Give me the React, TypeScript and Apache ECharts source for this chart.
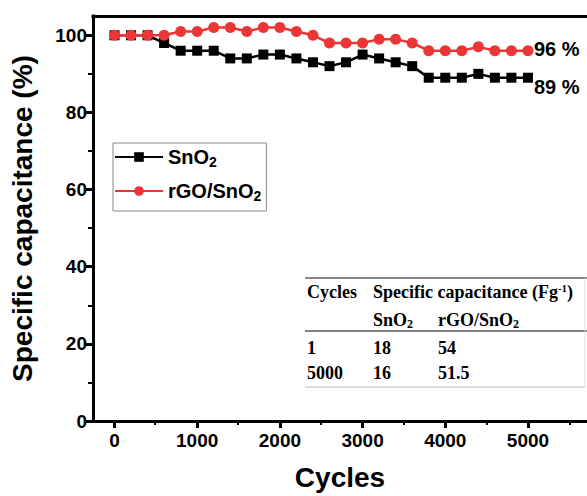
import React, { useEffect, useRef } from 'react';
import * as echarts from 'echarts';

const cycles = [0, 200, 400, 600, 800, 1000, 1200, 1400, 1600, 1800, 2000, 2200, 2400, 2600, 2800, 3000, 3200, 3400, 3600, 3800, 4000, 4200, 4400, 4600, 4800, 5000];
const sno2 = [100, 100, 100, 98, 96, 96, 96, 94, 94, 95, 95, 94, 93, 92, 93, 95, 94, 93, 92, 89, 89, 89, 90, 89, 89, 89];
const rgoSno2 = [100, 100, 100, 100, 101, 101, 102, 102, 101, 102, 102, 101, 100, 98, 98, 98, 99, 99, 98, 96, 96, 96, 97, 96, 96, 96];

const xTickValues = [0, 1000, 2000, 3000, 4000, 5000];
const xMinorTickValues = [500, 1500, 2500, 3500, 4500, 5500];
const yTickValues = [0, 20, 40, 60, 80, 100];
const yMinorTickValues = [10, 30, 50, 70, 90];

const tableCycles = ['1', '5000'];
const tableSnO2 = ['18', '16'];
const tableRGO = ['54', '51.5'];

const X_MIN = -260;
const X_MAX = 5714;
const Y_MIN = 0;
const Y_MAX = 105;

const RED = '#ec3535';
const SANS = '"Liberation Sans", Arial, sans-serif';
const SERIF = '"Liberation Serif", "Times New Roman", serif';

export default function App() {
  const ref = useRef<HTMLDivElement>(null);

  useEffect(() => {
    document.body.style.margin = '0';
    const chart = echarts.init(ref.current!, null, { renderer: 'svg' });

    const axisLineStyle = { color: '#000', width: 3, cap: 'square' };
    const tickLabel = { fontSize: 19, fontWeight: 'bold', color: '#000', fontFamily: SANS };

    const tableFont = { fontFamily: SERIF, fontWeight: 'bold', fontSize: 18, fill: '#000' };
    const tableRich = {
      s: { fontFamily: SERIF, fontWeight: 'bold', fontSize: 12, padding: [7, 0, 0, 0] },
      p: { fontFamily: SERIF, fontWeight: 'bold', fontSize: 11, padding: [0, 0, 8, 0] },
    };
    const tx = (text: string, x: number, y: number) => ({
      type: 'text',
      x,
      y,
      style: { text, ...tableFont, verticalAlign: 'middle', align: 'left', rich: tableRich },
    });

    const rowsY = [348, 373];
    const tableTexts: any[] = [
      tx('Cycles', 307, 292),
      tx('Specific capacitance (Fg{p|-1})', 373, 292),
      tx('SnO{s|2}', 373, 320),
      tx('rGO/SnO{s|2}', 438, 320),
    ];
    tableCycles.forEach((c, i) => {
      tableTexts.push(tx(c, 307, rowsY[i]));
      tableTexts.push(tx(tableSnO2[i], 373, rowsY[i]));
      tableTexts.push(tx(tableRGO[i], 438, rowsY[i]));
    });

    const option: any = {
      animation: false,
      backgroundColor: '#fff',
      grid: [
        { left: 92, top: 16, width: 497, height: 405 },
        { left: 92, top: 16, width: 497, height: 405 },
      ],
      legend: {
        orient: 'vertical',
        left: 113,
        top: 143,
        padding: [4, 5, 8, 1],
        itemWidth: 48,
        itemHeight: 12,
        itemGap: 12,
        borderColor: '#888',
        borderWidth: 1,
        data: ['SnO2', 'rGO/SnO2'],
        formatter: (name: string) => '{n|' + name.slice(0, -1) + '}{s|2}',
        textStyle: {
          color: '#000',
          rich: {
            n: { fontSize: 20, fontWeight: 'bold', fontFamily: SANS, color: '#000' },
            s: { fontSize: 14, fontWeight: 'bold', fontFamily: SANS, color: '#000', padding: [10, 0, 0, 0] },
          },
        },
      },
      xAxis: [
        {
          type: 'value',
          gridIndex: 0,
          position: 'bottom',
          min: X_MIN,
          max: X_MAX,
          axisLine: { show: true, onZero: false, lineStyle: axisLineStyle },
          axisTick: { show: true, customValues: xTickValues, length: 7, lineStyle: { color: '#000', width: 3 } },
          axisLabel: { customValues: xTickValues, margin: 10, formatter: (v: number) => String(v), ...tickLabel },
          splitLine: { show: false },
          name: 'Cycles',
          nameLocation: 'middle',
          nameGap: 42,
          nameTextStyle: { fontSize: 28, fontWeight: 'bold', color: '#000', fontFamily: SANS },
        },
        {
          type: 'value',
          gridIndex: 0,
          position: 'top',
          min: X_MIN,
          max: X_MAX,
          axisLine: { show: true, onZero: false, lineStyle: axisLineStyle },
          axisTick: { show: false },
          axisLabel: { show: false },
          splitLine: { show: false },
        },
        {
          type: 'value',
          gridIndex: 1,
          position: 'bottom',
          min: X_MIN,
          max: X_MAX,
          axisLine: { show: false, onZero: false },
          axisTick: { show: true, customValues: xMinorTickValues, length: 4, lineStyle: { color: '#000', width: 2 } },
          axisLabel: { show: false },
          splitLine: { show: false },
        },
      ],
      yAxis: [
        {
          type: 'value',
          gridIndex: 0,
          min: Y_MIN,
          max: Y_MAX,
          axisLine: { show: true, onZero: false, lineStyle: axisLineStyle },
          axisTick: { show: true, customValues: yTickValues, length: 7, lineStyle: { color: '#000', width: 3 } },
          axisLabel: { customValues: yTickValues, margin: 6, ...tickLabel },
          splitLine: { show: false },
          name: 'Specific capacitance (%)',
          nameLocation: 'middle',
          nameGap: 57,
          nameTextStyle: { fontSize: 28, fontWeight: 'bold', color: '#000', fontFamily: SANS },
        },
        {
          type: 'value',
          gridIndex: 1,
          min: Y_MIN,
          max: Y_MAX,
          axisLine: { show: false, onZero: false },
          axisTick: { show: true, customValues: yMinorTickValues, length: 4, lineStyle: { color: '#000', width: 2 } },
          axisLabel: { show: false },
          splitLine: { show: false },
        },
      ],
      series: [
        {
          name: 'SnO2',
          type: 'line',
          xAxisIndex: 0,
          yAxisIndex: 0,
          data: cycles.map((c, i) => [c, sno2[i]]),
          symbol: 'rect',
          symbolSize: 10,
          color: '#000',
          itemStyle: { color: '#000' },
          lineStyle: { color: '#000', width: 2.5 },
          endLabel: {
            show: true,
            formatter: () => `${sno2[sno2.length - 1]} %`,
            distance: 6,
            offset: [0, 9],
            fontSize: 20,
            fontWeight: 'bold',
            color: '#000',
            fontFamily: SANS,
          },
        },
        {
          name: 'rGO/SnO2',
          type: 'line',
          xAxisIndex: 0,
          yAxisIndex: 0,
          data: cycles.map((c, i) => [c, rgoSno2[i]]),
          symbol: 'circle',
          symbolSize: 11,
          color: RED,
          itemStyle: { color: RED },
          lineStyle: { color: RED, width: 2.5 },
          endLabel: {
            show: true,
            formatter: () => `${rgoSno2[rgoSno2.length - 1]} %`,
            distance: 6,
            offset: [0, -2],
            fontSize: 20,
            fontWeight: 'bold',
            color: '#000',
            fontFamily: SANS,
          },
        },
      ],
      graphic: [
        { type: 'line', shape: { x1: 305, y1: 278, x2: 587, y2: 278 }, style: { stroke: '#888', lineWidth: 2 } },
        { type: 'line', shape: { x1: 305, y1: 331, x2: 587, y2: 331 }, style: { stroke: '#555', lineWidth: 1.5 } },
        { type: 'line', shape: { x1: 305, y1: 387, x2: 585, y2: 387 }, style: { stroke: '#d0d0d0', lineWidth: 1.5 } },
        { type: 'line', shape: { x1: 585, y1: 278, x2: 585, y2: 387 }, style: { stroke: '#dddddd', lineWidth: 1 } },
        ...tableTexts,
      ],
    };

    chart.setOption(option);
    return () => chart.dispose();
  }, []);

  return <div ref={ref} style={{ width: 587, height: 496 }} />;
}
